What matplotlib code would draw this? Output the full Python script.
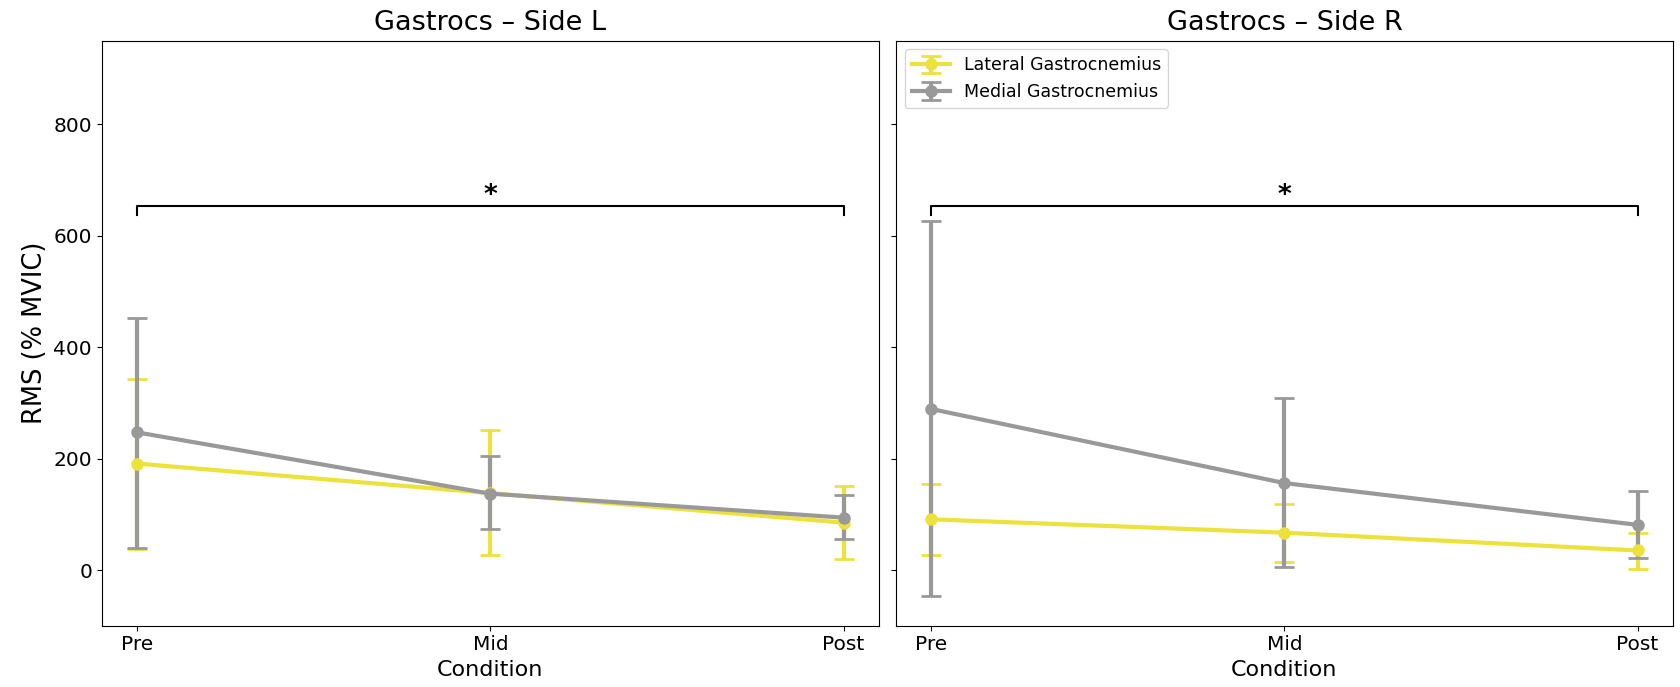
import matplotlib.pyplot as plt
import numpy as np

conditions = ['Pre', 'Mid', 'Post']

# side L
lat_L = [191, 138, 85]
lat_L_lo = [38, 27, 19]
lat_L_hi = [343, 251, 150]
med_L = [247, 137, 94]
med_L_lo = [40, 73, 56]
med_L_hi = [453, 204, 135]

# side R
lat_R = [91, 67, 35]
lat_R_lo = [27, 15, 2]
lat_R_hi = [154, 118, 67]
med_R = [289, 156, 81]
med_R_lo = [-46, 6, 21]
med_R_hi = [626, 308, 141]

sig_y = 653

yellow = '#ede23c'
grey = '#999999'

fig, axes = plt.subplots(1, 2, figsize=(16.8, 6.87), dpi=100, sharey=True)
fig.subplots_adjust(left=0.0606, right=0.9958, bottom=0.0892, top=0.9408, wspace=0.022)

x = np.arange(len(conditions))
panels = [('L', lat_L, lat_L_lo, lat_L_hi, med_L, med_L_lo, med_L_hi),
          ('R', lat_R, lat_R_lo, lat_R_hi, med_R, med_R_lo, med_R_hi)]

for ax, (side, lat, lat_lo, lat_hi, med, med_lo, med_hi) in zip(axes, panels):
    lat = np.array(lat); med = np.array(med)
    lat_err = [lat - np.array(lat_lo), np.array(lat_hi) - lat]
    med_err = [med - np.array(med_lo), np.array(med_hi) - med]
    ax.errorbar(x, lat, yerr=lat_err, color=yellow, marker='o', markersize=8,
                linewidth=3, capsize=7, elinewidth=3, capthick=2,
                label='Lateral Gastrocnemius')
    ax.errorbar(x, med, yerr=med_err, color=grey, marker='o', markersize=8,
                linewidth=3, capsize=7, elinewidth=3, capthick=2,
                label='Medial Gastrocnemius')
    # significance bracket Pre vs Post
    ax.plot([x[0], x[0], x[-1], x[-1]], [sig_y - 15, sig_y, sig_y, sig_y - 15],
            color='black', linewidth=1.5)
    ax.text((x[0] + x[-1]) / 2, sig_y - 6, '*', ha='center', va='bottom',
            fontsize=19, fontweight='bold')
    ax.set_title(f'Gastrocs \u2013 Side {side}', fontsize=19.5, pad=8)
    ax.set_xticks(x)
    ax.set_xticklabels(conditions, fontsize=14.5)
    ax.set_xlabel('Condition', fontsize=16, labelpad=4)
    ax.tick_params(axis='y', labelsize=14.5)
    ax.set_xlim(-0.1, 2.1)

axes[0].set_ylim(-100, 950)
axes[0].set_yticks([0, 200, 400, 600, 800])
axes[0].set_ylabel('RMS (% MVIC)', fontsize=18.5)
axes[1].legend(loc='upper left', fontsize=12.5, handlelength=2.2)

fig.savefig('out.png', dpi=100)
